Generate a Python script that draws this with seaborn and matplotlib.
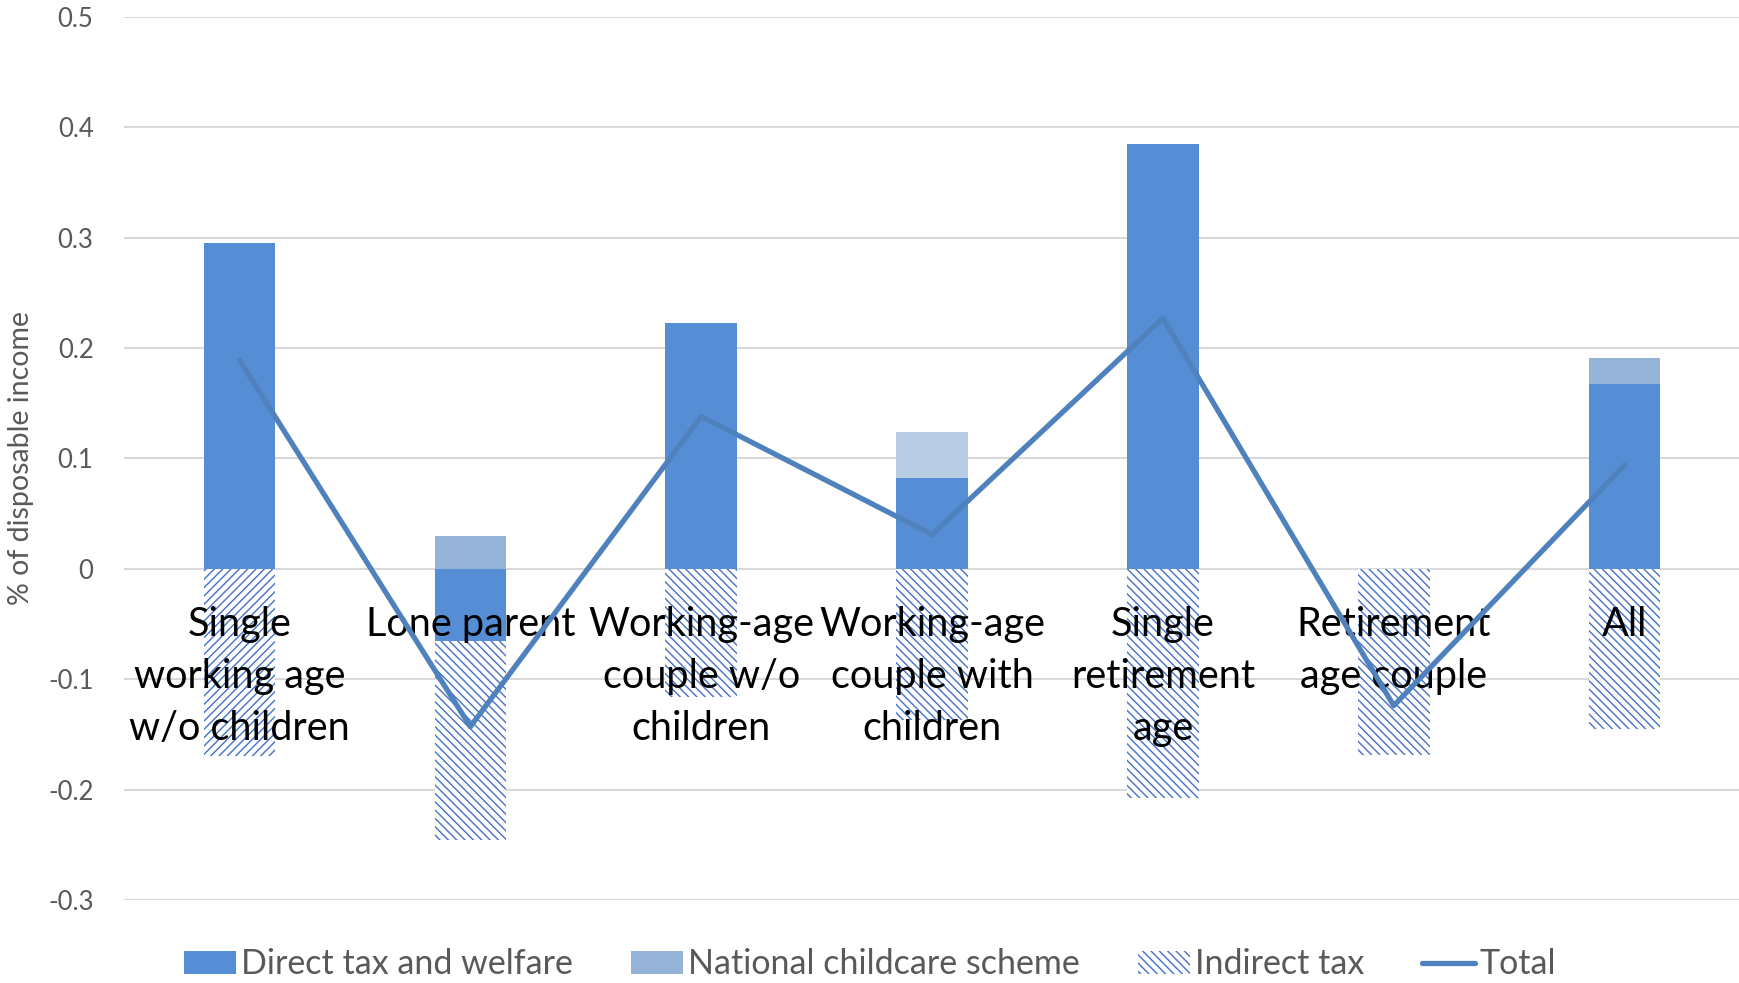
import numpy as np
import pandas as pd
import seaborn as sns
import matplotlib.pyplot as plt
from matplotlib.patches import Patch
from matplotlib.lines import Line2D

# ---- data ----
categories = ["Single\nworking age\nw/o children", "Lone parent",
              "Working-age\ncouple w/o\nchildren", "Working-age\ncouple with\nchildren",
              "Single\nretirement\nage", "Retirement\nage couple", "All"]
direct = [0.295, -0.065, 0.223, 0.082, 0.385, 0.0, 0.167]
childcare = [0.0, 0.030, 0.0, 0.042, 0.0, 0.0, 0.024]
indirect = [-0.170, -0.181, -0.116, -0.137, -0.208, -0.169, -0.145]
total = [0.189, -0.143, 0.138, 0.031, 0.227, -0.124, 0.094]
yticks = [-0.3, -0.2, -0.1, 0, 0.1, 0.2, 0.3, 0.4, 0.5]
ytick_labels = ["-0.3", "-0.2", "-0.1", "0", "0.1", "0.2", "0.3", "0.4", "0.5"]
legend_labels = ["Direct tax and welfare", "National childcare scheme", "Indirect tax", "Total"]
ylabel = "% of disposable income"

c_direct = "#558ED5"
c_child = "#95B3D7"
c_child_light = "#B9CDE5"
c_hatch = "#4472C4"
c_line = "#4F81BD"

sns.set_theme(style="white")
plt.rcParams['font.family'] = ['Lato', 'DejaVu Sans']
plt.rcParams['hatch.linewidth'] = 1.0

df = pd.DataFrame({"cat": categories, "direct": direct, "childcare": childcare,
                   "indirect": indirect, "total": total})
df["pos_direct"] = df["direct"].clip(lower=0)
df["neg_direct"] = df["direct"].clip(upper=0)
df["pos_top"] = df["pos_direct"] + df["childcare"]
df["neg_bottom"] = df["neg_direct"] + df["indirect"]
df["x"] = np.arange(len(df))

fig = plt.figure(figsize=(17.4, 9.83), dpi=100)
ax = fig.add_axes([0.0713, 0.0844, 0.9287, 0.8986])

W = 0.31
child_palette = [c_child_light if i == 3 else c_child for i in range(len(df))]
# childcare on top of positive direct (drawn as cumulative, then overdrawn)
sns.barplot(data=df, x="cat", y="pos_top", hue="cat", palette=child_palette,
            order=categories, width=W, saturation=1, errorbar=None, legend=False,
            linewidth=0, ax=ax)
# hatched indirect tax below negative direct
hatches = ["////"] + ["\\\\\\\\"] * (len(df) - 1)
n_before = len(ax.patches)
sns.barplot(data=df, x="cat", y="neg_bottom", order=categories, width=W,
            color="white", saturation=1, errorbar=None, linewidth=0,
            edgecolor=c_hatch, ax=ax)
for p, h in zip(ax.patches[n_before:], hatches):
    p.set_hatch(h)
    p.set_edgecolor(c_hatch)
    p.set_linewidth(0)
# direct tax and welfare
sns.barplot(data=df, x="cat", y="pos_direct", order=categories, width=W,
            color=c_direct, saturation=1, errorbar=None, linewidth=0, ax=ax)
sns.barplot(data=df, x="cat", y="neg_direct", order=categories, width=W,
            color=c_direct, saturation=1, errorbar=None, linewidth=0, ax=ax)

# category labels inside the plot
for i, lab in enumerate(categories):
    ax.text(i, -0.034, lab, ha="center", va="top", fontsize=28.5, color="black",
            linespacing=1.5, zorder=3)

# total line
sns.lineplot(data=df, x="x", y="total", color=c_line, linewidth=3.8, ax=ax,
             zorder=5, sort=False)

ax.set_xlim(-0.5, len(df) - 0.5)
ax.set_ylim(-0.3, 0.5)
ax.set_yticks(yticks)
ax.set_yticklabels(ytick_labels, fontsize=18.5, color="#595959")
ax.set_xticks([])
ax.set_xlabel("")
ax.set_ylabel(ylabel, fontsize=20.5, color="#595959")
ax.yaxis.set_label_coords(-0.056, 0.5)
ax.tick_params(axis="y", length=0, pad=22)
ax.yaxis.grid(True, color="#D9D9D9", linewidth=1.5)
ax.set_axisbelow(True)
for s in ax.spines.values():
    s.set_visible(False)

handles = [Patch(facecolor=c_direct, edgecolor="none"),
           Patch(facecolor=c_child, edgecolor="none"),
           Patch(facecolor="white", edgecolor=c_hatch, hatch="\\\\\\\\", linewidth=0),
           Line2D([0], [0], color=c_line, linewidth=3.8)]
fig.legend(handles, legend_labels, loc="center", bbox_to_anchor=(0.5, 0.019),
           ncol=4, frameon=False, fontsize=24.5, handlelength=1.53, handleheight=0.65,
           handletextpad=0.16, columnspacing=1.7, labelcolor="#595959")

fig.savefig("out.png", dpi=100)
